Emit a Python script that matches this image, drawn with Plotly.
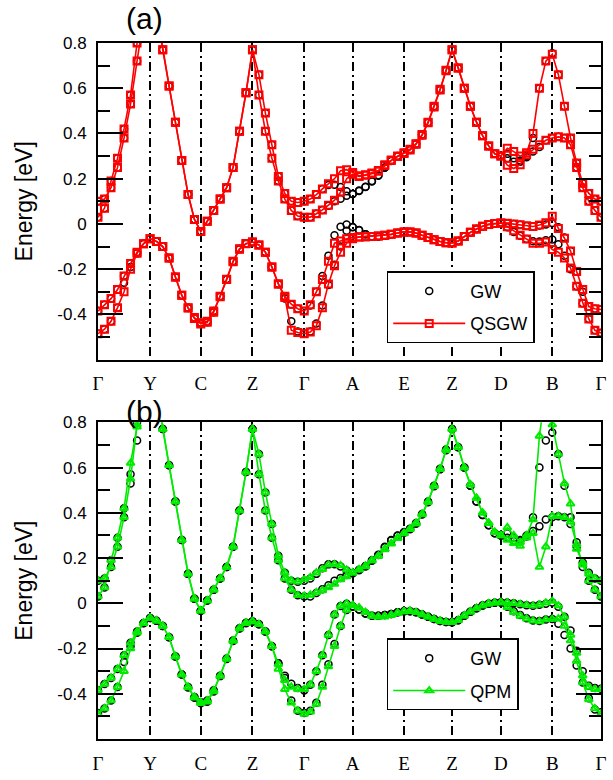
import numpy as np
import plotly.graph_objects as go

# ---------------- data ----------------
K_LABELS = ["Γ", "Y", "C", "Z", "Γ", "A", "E", "Z", "D", "B", "Γ"]
K_NODES = [0.0, 0.527, 1.040, 1.563, 2.087, 2.577, 3.097, 3.583, 4.077, 4.597, 5.090]
N_PER_SEG = 8

# GW (black circles) : two conduction bands (c2 upper, c1 lower) and two valence bands
GW_C2 = [0.10, 0.11, 0.16, 0.25, 0.38, 0.53, 0.72, 0.95, 1.10,
         0.95, 0.77, 0.61, 0.45, 0.28, 0.13, 0.02, -0.033,
         0.012, 0.06, 0.11, 0.16, 0.25, 0.41, 0.58, 0.77,
         0.66, 0.49, 0.35, 0.21, 0.135, 0.10, 0.095, 0.10,
         0.11, 0.13, 0.155, 0.172, 0.173, 0.163, 0.145, 0.133,
         0.148, 0.165, 0.19, 0.215, 0.25, 0.28, 0.30, 0.315,
         0.33, 0.355, 0.395, 0.45, 0.52, 0.595, 0.68, 0.77,
         0.69, 0.60, 0.52, 0.45, 0.39, 0.345, 0.31, 0.30,
         0.31, 0.29, 0.28, 0.30, 0.38, 0.60, 0.72, 0.755,
         0.66, 0.52, 0.38, 0.27, 0.18, 0.135, 0.11, 0.10]
GW_C1 = [0.03, 0.07, 0.19, 0.29, 0.42, 0.57, 0.80, 1.00, 1.10,
         0.95, 0.77, 0.61, 0.45, 0.28, 0.13, 0.02, -0.033,
         0.012, 0.06, 0.11, 0.16, 0.25, 0.41, 0.58, 0.77,
         0.57, 0.41, 0.29, 0.19, 0.11, 0.06, 0.035, 0.03,
         0.03, 0.045, 0.062, 0.08, 0.10, 0.112, 0.125, 0.133,
         0.146, 0.163, 0.188, 0.213, 0.248, 0.278, 0.298, 0.312,
         0.327, 0.352, 0.392, 0.447, 0.517, 0.592, 0.677, 0.77,
         0.69, 0.60, 0.52, 0.45, 0.39, 0.345, 0.31, 0.30,
         0.29, 0.275, 0.275, 0.295, 0.32, 0.34, 0.37, 0.38,
         0.385, 0.38, 0.35, 0.25, 0.16, 0.10, 0.06, 0.03]
GW_V1 = [-0.385, -0.357, -0.33, -0.29, -0.23, -0.175, -0.125, -0.087, -0.065,
         -0.077, -0.10, -0.15, -0.235, -0.315, -0.37, -0.414, -0.437,
         -0.43, -0.385, -0.32, -0.244, -0.165, -0.11, -0.086, -0.08,
         -0.093, -0.125, -0.19, -0.265, -0.32, -0.356, -0.375, -0.385,
         -0.36, -0.30, -0.23, -0.14, -0.05, -0.012, -0.002, -0.013,
         -0.027, -0.045, -0.055, -0.055, -0.052, -0.047, -0.04, -0.035,
         -0.035, -0.04, -0.05, -0.06, -0.07, -0.078, -0.083, -0.084,
         -0.075, -0.055, -0.037, -0.022, -0.01, -0.002, 0.002, 0.004,
         0.003, 0.0, -0.004, -0.009, -0.011, -0.007, -0.002, 0.004,
         -0.015, -0.06, -0.12, -0.21, -0.30, -0.365, -0.375, -0.378]
GW_V2 = [-0.485, -0.465, -0.43, -0.37, -0.26, -0.19, -0.13, -0.088, -0.065,
         -0.077, -0.10, -0.15, -0.235, -0.315, -0.372, -0.418, -0.442,
         -0.435, -0.39, -0.322, -0.246, -0.167, -0.112, -0.088, -0.08,
         -0.093, -0.125, -0.19, -0.265, -0.33, -0.43, -0.475, -0.485,
         -0.475, -0.44, -0.36, -0.27, -0.18, -0.10, -0.03, -0.015,
         -0.028, -0.045, -0.055, -0.055, -0.052, -0.047, -0.04, -0.035,
         -0.035, -0.04, -0.05, -0.06, -0.07, -0.078, -0.083, -0.084,
         -0.075, -0.055, -0.037, -0.022, -0.01, -0.002, 0.002, 0.004,
         -0.015, -0.035, -0.052, -0.066, -0.076, -0.078, -0.072, -0.069,
         -0.09, -0.14, -0.20, -0.275, -0.35, -0.42, -0.47, -0.482]

# QSGW (red squares)
QSGW_C2 = [0.10, 0.11, 0.16, 0.25, 0.38, 0.53, 0.72, 0.95, 1.10,
           0.95, 0.77, 0.61, 0.45, 0.28, 0.13, 0.02, -0.033,
           0.012, 0.06, 0.11, 0.16, 0.25, 0.41, 0.58, 0.77,
           0.66, 0.49, 0.35, 0.21, 0.135, 0.10, 0.095, 0.10,
           0.11, 0.13, 0.155, 0.178, 0.20, 0.235, 0.24, 0.228,
           0.213, 0.217, 0.225, 0.236, 0.262, 0.283, 0.30, 0.315,
           0.33, 0.355, 0.395, 0.45, 0.52, 0.595, 0.68, 0.77,
           0.69, 0.60, 0.52, 0.45, 0.39, 0.345, 0.31, 0.30,
           0.335, 0.32, 0.30, 0.315, 0.40, 0.60, 0.72, 0.75,
           0.66, 0.52, 0.38, 0.27, 0.18, 0.135, 0.11, 0.10]
QSGW_C1 = [0.03, 0.07, 0.19, 0.29, 0.42, 0.57, 0.80, 1.00, 1.10,
           0.95, 0.77, 0.61, 0.45, 0.28, 0.13, 0.02, -0.033,
           0.012, 0.06, 0.11, 0.16, 0.25, 0.41, 0.58, 0.77,
           0.57, 0.41, 0.29, 0.19, 0.11, 0.06, 0.035, 0.03,
           0.03, 0.045, 0.062, 0.083, 0.105, 0.14, 0.20, 0.22,
           0.21, 0.215, 0.222, 0.233, 0.258, 0.28, 0.298, 0.312,
           0.327, 0.352, 0.392, 0.447, 0.517, 0.592, 0.677, 0.77,
           0.69, 0.60, 0.52, 0.45, 0.39, 0.345, 0.31, 0.30,
           0.26, 0.245, 0.262, 0.306, 0.33, 0.35, 0.37, 0.38,
           0.385, 0.38, 0.35, 0.25, 0.16, 0.10, 0.06, 0.03]
QSGW_V1 = [-0.385, -0.357, -0.33, -0.29, -0.23, -0.175, -0.125, -0.087, -0.065,
           -0.077, -0.10, -0.15, -0.235, -0.315, -0.37, -0.414, -0.437,
           -0.43, -0.385, -0.32, -0.244, -0.165, -0.11, -0.086, -0.08,
           -0.093, -0.125, -0.19, -0.265, -0.32, -0.355, -0.375, -0.385,
           -0.357, -0.30, -0.245, -0.165, -0.085, -0.075, -0.065, -0.06,
           -0.058, -0.056, -0.055, -0.053, -0.05, -0.046, -0.04, -0.035,
           -0.035, -0.04, -0.05, -0.06, -0.07, -0.078, -0.083, -0.084,
           -0.075, -0.055, -0.037, -0.022, -0.01, -0.002, 0.002, 0.004,
           0.003, 0.0, -0.004, -0.008, -0.011, -0.005, 0.005, 0.034,
           -0.02, -0.063, -0.12, -0.21, -0.29, -0.365, -0.375, -0.378]
QSGW_V2 = [-0.485, -0.465, -0.43, -0.37, -0.30, -0.20, -0.13, -0.088, -0.065,
           -0.077, -0.10, -0.15, -0.235, -0.315, -0.372, -0.418, -0.442,
           -0.435, -0.39, -0.322, -0.246, -0.167, -0.112, -0.088, -0.08,
           -0.093, -0.125, -0.19, -0.265, -0.325, -0.47, -0.48, -0.485,
           -0.478, -0.45, -0.37, -0.265, -0.185, -0.125, -0.085, -0.065,
           -0.058, -0.056, -0.055, -0.053, -0.05, -0.046, -0.04, -0.035,
           -0.035, -0.04, -0.05, -0.06, -0.07, -0.078, -0.083, -0.084,
           -0.075, -0.055, -0.037, -0.022, -0.01, -0.002, 0.002, 0.004,
           -0.012, -0.03, -0.05, -0.066, -0.085, -0.085, -0.08, -0.113,
           -0.125, -0.15, -0.195, -0.275, -0.35, -0.42, -0.47, -0.482]

# QPM (green triangles)
QPM_C2 = [0.10, 0.11, 0.16, 0.25, 0.38, 0.55, 0.79, 0.95, 1.10,
          0.95, 0.77, 0.61, 0.45, 0.28, 0.13, 0.02, -0.033,
          0.012, 0.06, 0.11, 0.16, 0.25, 0.41, 0.58, 0.77,
          0.66, 0.49, 0.35, 0.21, 0.135, 0.10, 0.095, 0.105,
          0.115, 0.135, 0.15, 0.17, 0.172, 0.167, 0.148, 0.135,
          0.15, 0.165, 0.19, 0.21, 0.24, 0.265, 0.29, 0.31,
          0.33, 0.355, 0.395, 0.45, 0.52, 0.595, 0.68, 0.77,
          0.69, 0.60, 0.525, 0.465, 0.40, 0.355, 0.315, 0.30,
          0.335, 0.30, 0.27, 0.30, 0.37, 0.74, 0.95, 0.79,
          0.66, 0.53, 0.44, 0.24, 0.18, 0.13, 0.11, 0.10]
QPM_C1 = [0.03, 0.07, 0.19, 0.29, 0.42, 0.62, 0.78, 1.00, 1.10,
          0.95, 0.77, 0.61, 0.45, 0.28, 0.13, 0.02, -0.033,
          0.012, 0.06, 0.11, 0.16, 0.25, 0.41, 0.58, 0.77,
          0.57, 0.41, 0.29, 0.19, 0.11, 0.06, 0.035, 0.033,
          0.037, 0.048, 0.057, 0.07, 0.085, 0.105, 0.118, 0.135,
          0.148, 0.163, 0.188, 0.208, 0.238, 0.263, 0.288, 0.308,
          0.327, 0.352, 0.392, 0.447, 0.517, 0.592, 0.677, 0.77,
          0.69, 0.60, 0.525, 0.465, 0.40, 0.355, 0.315, 0.30,
          0.28, 0.265, 0.253, 0.29, 0.31, 0.16, 0.25, 0.385,
          0.385, 0.38, 0.36, 0.26, 0.17, 0.10, 0.06, 0.03]
QPM_V1 = [-0.385, -0.357, -0.33, -0.29, -0.23, -0.175, -0.125, -0.087, -0.065,
          -0.077, -0.10, -0.15, -0.235, -0.315, -0.37, -0.414, -0.437,
          -0.43, -0.385, -0.32, -0.244, -0.165, -0.11, -0.086, -0.08,
          -0.093, -0.125, -0.19, -0.27, -0.34, -0.37, -0.38, -0.38,
          -0.36, -0.30, -0.23, -0.14, -0.05, -0.012, -0.002, -0.008,
          -0.02, -0.04, -0.056, -0.06, -0.058, -0.052, -0.043, -0.036,
          -0.034, -0.04, -0.05, -0.06, -0.07, -0.078, -0.083, -0.084,
          -0.075, -0.055, -0.037, -0.022, -0.01, -0.002, 0.002, 0.004,
          0.003, 0.0, -0.004, -0.008, -0.011, -0.006, 0.002, 0.01,
          -0.01, -0.06, -0.14, -0.22, -0.32, -0.37, -0.38, -0.38]
QPM_V2 = [-0.49, -0.465, -0.43, -0.37, -0.30, -0.20, -0.13, -0.088, -0.065,
          -0.077, -0.10, -0.15, -0.235, -0.315, -0.372, -0.418, -0.442,
          -0.435, -0.39, -0.322, -0.246, -0.167, -0.112, -0.088, -0.08,
          -0.093, -0.125, -0.19, -0.29, -0.38, -0.44, -0.475, -0.49,
          -0.48, -0.445, -0.37, -0.28, -0.19, -0.10, -0.03, -0.01,
          -0.02, -0.04, -0.056, -0.06, -0.058, -0.052, -0.043, -0.036,
          -0.034, -0.04, -0.05, -0.06, -0.07, -0.078, -0.083, -0.084,
          -0.075, -0.055, -0.037, -0.022, -0.01, -0.002, 0.002, 0.004,
          -0.018, -0.04, -0.056, -0.068, -0.077, -0.08, -0.072, -0.07,
          -0.068, -0.10, -0.165, -0.255, -0.35, -0.425, -0.465, -0.49]

Y_TICKS = [-0.4, -0.2, 0, 0.2, 0.4, 0.6, 0.8]
Y_TICKTEXT = ["-0.4", "-0.2", "0", "0.2", "0.4", "0.6", "0.8"]
Y_MINOR = [-0.5, -0.3, -0.1, 0.1, 0.3, 0.5, 0.7]

# ---------------- k grid along the path ----------------
k = [K_NODES[0]]
for a, b in zip(K_NODES[:-1], K_NODES[1:]):
    k.extend(np.linspace(a, b, N_PER_SEG + 1)[1:].tolist())

GREEN = "rgb(0,235,0)"
fig = go.Figure()


def add_panel(xa, ya, legend, other_name, other_bands, color, symbol):
    gw_bands = [GW_C2, GW_C1, GW_V1, GW_V2]
    for i, band in enumerate(gw_bands):
        fig.add_trace(go.Scatter(
            x=k, y=band, xaxis=xa, yaxis=ya, mode="markers", name="GW",
            legend=legend, legendgroup=legend + "gw", showlegend=(i == 0),
            marker=dict(symbol="circle-open", size=7, color="black",
                        line=dict(width=1.5, color="black"))))
    for i, band in enumerate(other_bands):
        fig.add_trace(go.Scatter(
            x=k, y=band, xaxis=xa, yaxis=ya, mode="lines+markers", name=other_name,
            legend=legend, legendgroup=legend + "o", showlegend=(i == 0),
            line=dict(color=color, width=1.6),
            marker=dict(symbol=symbol, size=7, color=color,
                        line=dict(width=2, color=color))))


add_panel("x", "y", "legend", "QSGW", [QSGW_C2, QSGW_C1, QSGW_V1, QSGW_V2],
          "red", "square-open")
add_panel("x2", "y2", "legend2", "QPM", [QPM_C2, QPM_C1, QPM_V1, QPM_V2],
          GREEN, "triangle-up-open")

xaxis_common = dict(
    range=[K_NODES[0], K_NODES[-1]], tickmode="array", tickvals=K_NODES,
    ticktext=K_LABELS, ticks="", showgrid=True, gridcolor="black",
    gridwidth=1.5, griddash="9px,4px,2px,4px", showline=True, linecolor="black",
    linewidth=2, mirror=True, zeroline=False,
    tickfont=dict(family="Liberation Serif", size=19, color="black"),
    ticklabelstandoff=6)
yaxis_common = dict(
    range=[-0.6, 0.8], tickmode="array", tickvals=Y_TICKS, ticktext=Y_TICKTEXT,
    ticks="inside", ticklen=25, tickwidth=2, tickcolor="black",
    minor=dict(tickmode="array", tickvals=Y_MINOR, ticks="inside", ticklen=12,
               tickwidth=2, tickcolor="black", showgrid=False),
    showgrid=False, zeroline=False, showline=True, linecolor="black",
    linewidth=2, mirror="ticks",
    tickfont=dict(family="Liberation Sans", size=17, color="black"),
    ticklabelstandoff=6)

legend_common = dict(xanchor="left", yanchor="top", bordercolor="black",
                     borderwidth=1.5, bgcolor="white",
                     font=dict(family="Liberation Sans", size=18, color="black"),
                     itemwidth=72, tracegroupgap=6)

fig.update_layout(
    width=613, height=780,
    margin=dict(l=98, r=6, t=43, b=38),
    plot_bgcolor="white", paper_bgcolor="white",
    xaxis=dict(domain=[0, 1], anchor="y", **xaxis_common),
    yaxis=dict(domain=[0.545, 1], anchor="x", **yaxis_common),
    xaxis2=dict(domain=[0, 1], anchor="y2", **xaxis_common),
    yaxis2=dict(domain=[0, 0.455], anchor="x2", **yaxis_common),
    legend=dict(x=0.574, y=0.672, **legend_common),
    legend2=dict(x=0.574, y=0.1445, **legend_common),
    showlegend=True,
    annotations=[
        dict(text="(a)", x=0.0923, y=1.0358, xref="paper", yref="paper",
             showarrow=False, xanchor="center", yanchor="middle",
             font=dict(family="Liberation Sans", size=30, color="black")),
        dict(text="(b)", x=0.0923, y=0.4707, xref="paper", yref="paper",
             showarrow=False, xanchor="center", yanchor="middle",
             font=dict(family="Liberation Sans", size=30, color="black")),
        dict(text="Energy [eV]", x=-0.147, y=0.7725, xref="paper", yref="paper",
             showarrow=False, textangle=-90, xanchor="center", yanchor="middle",
             font=dict(family="Liberation Sans", size=23, color="black")),
        dict(text="Energy [eV]", x=-0.147, y=0.2275, xref="paper", yref="paper",
             showarrow=False, textangle=-90, xanchor="center", yanchor="middle",
             font=dict(family="Liberation Sans", size=23, color="black")),
    ],
)

fig.write_html(
    "out.html",
    config={"displayModeBar": False},
    post_script="document.body.style.margin='0';document.body.style.overflow='hidden';",
)
